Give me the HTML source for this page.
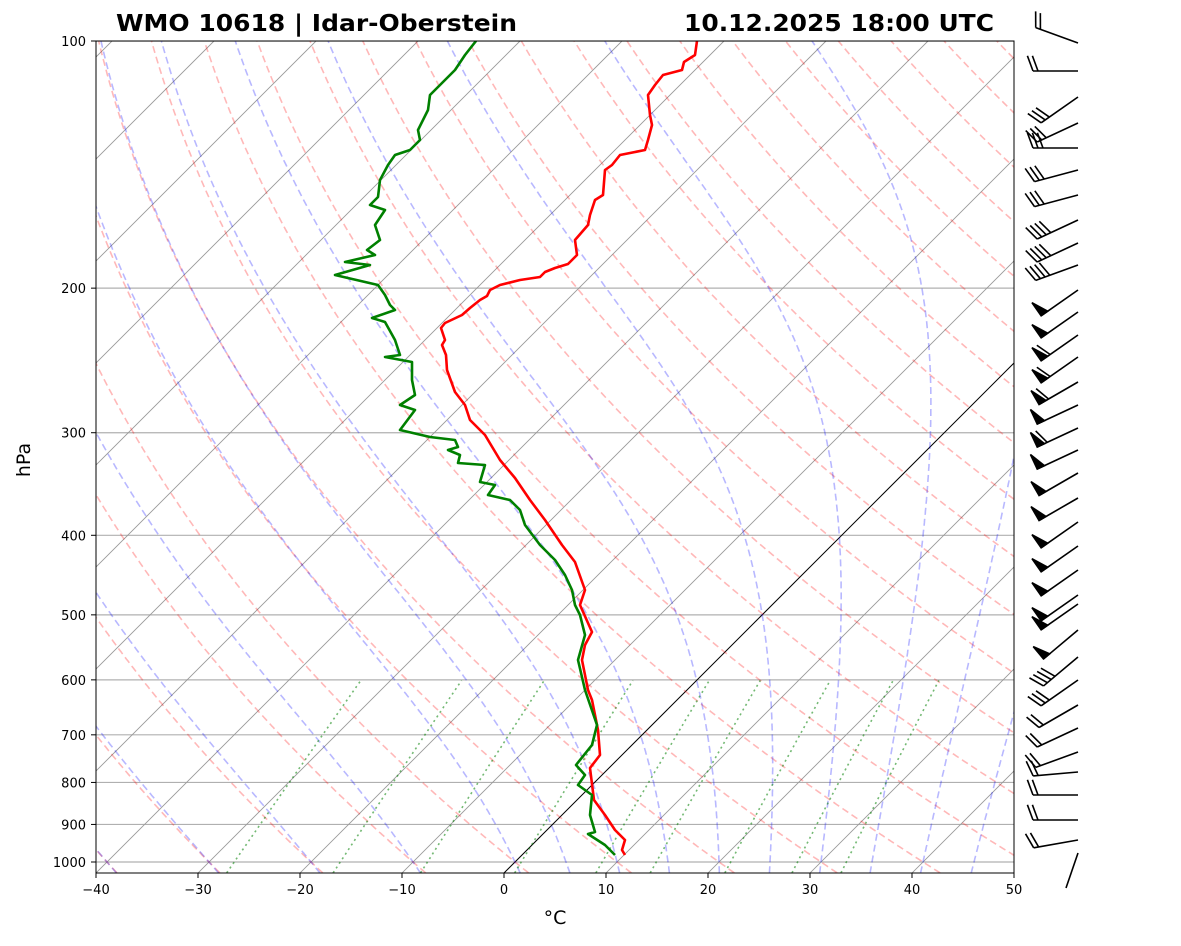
<!DOCTYPE html>
<html><head><meta charset="utf-8">
<style>
body{margin:0;background:#fff;}
svg text{font-family:"DejaVu Sans","Liberation Sans",sans-serif;}
</style></head>
<body>
<svg id="s" width="1181" height="941" xmlns="http://www.w3.org/2000/svg">
<defs><clipPath id="c"><rect x="96" y="41" width="918" height="832"/></clipPath></defs>
<g id="bg" clip-path="url(#c)"></g>
<g id="prof" clip-path="url(#c)">
<polyline fill="none" stroke="#ff0000" stroke-width="2.6" stroke-linejoin="round" points="697,41 695,55 684,62 682,70 663,75 655,85 648,95 650,115 652,125 648,140 645,150 620,155 612,165 605,170 603,195 595,200 590,215 588,225 575,240 577,255 568,264 555,268 545,272 540,277 520,280 500,285 490,290 487,296 480,300 470,308 462,315 445,323 441,328 445,340 442,345 446,355 447,370 455,392 465,405 470,420 485,435 500,460 515,478 530,500 545,520 562,545 575,562 585,590 580,605 592,632 585,645 582,660 588,690 592,700 598,730 600,755 590,768 594,800 605,815 615,830 625,840 622,850 625,855"/>
<polyline fill="none" stroke="#008000" stroke-width="2.6" stroke-linejoin="round" points="476,41 465,55 455,70 440,85 430,95 428,110 418,130 420,140 410,150 395,155 388,165 380,180 378,197 370,205 385,210 375,225 380,240 367,250 375,255 345,262 370,265 335,275 378,285 385,295 390,305 395,310 372,318 385,322 395,340 400,355 385,357 412,362 412,380 415,395 400,405 415,410 400,430 430,437 455,440 458,447 448,450 460,455 458,463 485,465 480,482 495,485 488,495 510,500 520,510 525,525 540,545 555,560 565,575 572,590 575,605 580,615 585,635 578,660 585,690 597,725 592,745 576,765 585,775 578,785 592,795 590,815 595,832 588,834 605,845 615,855"/>
</g>
<rect x="96" y="41" width="918" height="832" fill="none" stroke="#000" stroke-width="1"/>
<g id="ax" font-size="13" fill="#000"></g>
<g id="barbs" stroke="#000" stroke-width="1.6" fill="#000"></g>
<text x="116" y="31" font-size="23" font-weight="bold" textLength="401" lengthAdjust="spacingAndGlyphs">WMO 10618 | Idar-Oberstein</text>
<text x="684" y="31" font-size="23" font-weight="bold" textLength="310" lengthAdjust="spacingAndGlyphs">10.12.2025 18:00 UTC</text>
<text x="555" y="924" font-size="19" text-anchor="middle">°C</text>
<text x="0" y="0" font-size="19" text-anchor="middle" transform="translate(30,460) rotate(-90)">hPa</text>
</svg>
<script>
var NS="http://www.w3.org/2000/svg";
function Y(p){return 41+(Math.log10(p)-2)*821;}
function X(T,p){return 96+(T+40)*10.2+(873-Y(p));}
function el(par,tag,a,txt){var e=document.createElementNS(NS,tag);for(var k in a)e.setAttribute(k,a[k]);if(txt!==undefined)e.textContent=txt;document.getElementById(par).appendChild(e);return e;}
function line(pts,st){var s=pts.map(function(q){return q[0].toFixed(1)+","+q[1].toFixed(1)}).join(" ");var a={points:s,fill:"none"};for(var k in st)a[k]=st[k];el("bg","polyline",a);}
var ps=[];for(var p=1031;p>=100;p-=3)ps.push(p);ps.push(100);
[100,200,300,400,500,600,700,800,900,1000].forEach(function(p){el("bg","line",{x1:96,x2:1014,y1:Y(p),y2:Y(p),stroke:"#b0b0b0","stroke-width":1.2});});
for(var T=-150;T<=60;T+=10){line([[X(T,1031),Y(1031)],[X(T,100),Y(100)]],{stroke:T==0?"#000":"#999","stroke-width":T==0?1:0.9});}
for(var t0=-40;t0<=250;t0+=10){var th=t0+273.15;line(ps.map(function(p){return [X(th*Math.pow(p/1000,0.2857)-273.15,p),Y(p)]}),{stroke:"#ff0000","stroke-opacity":0.28,"stroke-width":1.6,"stroke-dasharray":"7,4"});}
function es(T){return 6.112*Math.exp(17.67*T/(T+243.5));}
function dTdp(p,T){var Tk=T+273.15,e=es(T),rs=0.622*e/(p-e),Lv=2.501e6,Rd=287.04,Cp=1005.7;return (Rd*Tk+Lv*rs)/(Cp+Lv*Lv*rs*0.622/(Rd*Tk*Tk))/p;}
var mts=[-40,-30,-20,-10];for(var t=0;t<=50;t+=5)mts.push(t);
mts.forEach(function(t0){var up=[],T=t0,p;for(p=1000;p>=100;p-=2){up.push([X(T,p),Y(p)]);T-=dTdp(p,T)*2;}T=t0;var dn=[];for(p=1000;p<=1032;p+=2){dn.unshift([X(T,p),Y(p)]);T+=dTdp(p,T)*2;}line(dn.concat(up),{stroke:"#0000ff","stroke-opacity":0.28,"stroke-width":1.6,"stroke-dasharray":"7,4"});});
[0.0004,0.001,0.002,0.004,0.007,0.01,0.016,0.024,0.032].forEach(function(w){var pts=[];for(var p=1031;p>=600;p-=10){var e=w*p/(0.622+w),l=Math.log(e/6.112),Td=243.5*l/(17.67-l);pts.push([X(Td,p),Y(p)]);}line(pts,{stroke:"#008000","stroke-opacity":0.55,"stroke-width":1.6,"stroke-dasharray":"2,3.5"});});
[100,200,300,400,500,600,700,800,900,1000].forEach(function(p){var y=Y(p);el("ax","line",{x1:91,x2:96,y1:y,y2:y,stroke:"#000"});el("ax","text",{x:86,y:y+5,"text-anchor":"end"},String(p));});
for(var T=-40;T<=50;T+=10){var x=96+(T+40)*10.2;el("ax","line",{x1:x,x2:x,y1:873,y2:878,stroke:"#000"});el("ax","text",{x:x,y:894,"text-anchor":"middle"},(T<0?"\u2212":"")+Math.abs(T));}
var B=[[43,-20,"2"],[71,0,"2"],[97,35,"3"],[123,25,"3"],[148,0,"3"],[170,15,"3"],[195,15,"3"],[220,25,"4"],[243,25,"4"],[265,20,"4"],[290,35,"P"],[312,35,"P"],[335,35,"P1"],[357,35,"P1"],[382,30,"P1"],[405,25,"P"],[428,25,"P1"],[450,25,"P"],[473,30,"P"],[498,30,"P"],[522,35,"P"],[546,35,"P"],[570,35,"P"],[595,35,"P"],[604,35,"P"],[630,40,"P"],[657,40,"4"],[680,35,"3"],[705,30,"2"],[728,25,"2"],[752,20,"2"],[772,5,"2"],[795,0,"2"],[820,0,"2"],[840,10,"2"]];
B.forEach(function(b){var a=b[1]*Math.PI/180,L=45,dx=-Math.cos(a),dy=Math.sin(a);var xr=1078,yr=b[0],xl=xr+dx*L,yl=yr+dy*L;el("barbs","line",{x1:xr,y1:yr,x2:xl,y2:yl});var px=-Math.sin(a),py=-Math.cos(a);var vx=(px*0.95+dx*0.35)*16,vy=(py*0.95+dy*0.35)*16;var pos=0,s=b[2];for(var i=0;i<s.length;i++){var sx=xl-dx*pos,sy=yl-dy*pos;if(s[i]=="P"){var ex=sx-dx*8,ey=sy-dy*8;el("barbs","polygon",{points:sx+","+sy+" "+(sx+px*16)+","+(sy+py*16)+" "+ex+","+ey});pos+=11;}else{var n=parseInt(s[i]);for(var k=0;k<n;k++){var sx2=xl-dx*pos,sy2=yl-dy*pos;el("barbs","line",{x1:sx2,y1:sy2,x2:sx2+vx,y2:sy2+vy});pos+=5;}}}});
el("barbs","line",{x1:1078,y1:853,x2:1066,y2:888});
</script>
</body></html>
